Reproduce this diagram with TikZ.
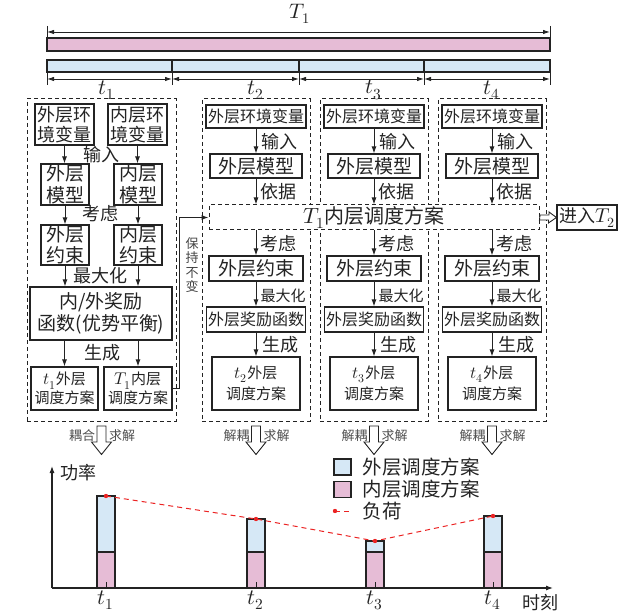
\documentclass[tikz,border=0pt]{standalone}
\usepackage{fontspec}
\usepackage{unicode-math}
\setmathfont{Latin Modern Math}
\setmainfont{Noto Sans CJK SC}
\usetikzlibrary{arrows.meta,calc}
\definecolor{pinkc}{RGB}{230,188,214}
\definecolor{bluec}{RGB}{214,232,246}
\definecolor{ink}{RGB}{35,35,35}
\definecolor{loadred}{RGB}{235,35,35}
\newcommand{\mt}[1]{{\fontsize{17}{17}\selectfont$#1$}}
\begin{document}
\begin{tikzpicture}[x=1pt,y=-1pt,color=ink,line width=1pt,
 box/.style={draw, line width=1.1pt, inner sep=0pt, align=center},
 dbox/.style={draw, dash pattern=on 4pt off 3pt, line width=1pt, inner sep=0pt},
 arr/.style={-{Latex[length=7pt,width=5pt]}, line width=1pt},
 dim/.style={{Latex[length=7pt,width=4.5pt]}-{Latex[length=7pt,width=4.5pt]}, line width=0.9pt},
 fs/.style 2 args={font=\fontsize{#1}{#2}\selectfont},
 lab/.style={inner sep=0pt, anchor=west}]
\useasboundingbox (0,0) rectangle (624,612);

% ---------- top time bars ----------
\node[fs={21}{21}] (T1lab) at (300,14) {$T_1$};
\coordinate (tl) at (47,32);
\coordinate (tr) at (550,32);
\draw (47,26) -- (47,38);
\draw (550,26) -- (550,38);
\draw[dim] (tl) -- (tr);
\draw[fill=pinkc, line width=1.1pt] (47,38) rectangle (550,51);
\draw[fill=bluec, line width=1.1pt] (47,60) rectangle (550,72);
\foreach \xx in {172,299,424}{\draw[line width=1.1pt] (\xx,60) -- (\xx,72);}
\foreach \xx in {47,172,299,424,550}{\draw (\xx,72) -- (\xx,85);}
\coordinate (d0) at (47,79);
\coordinate (d1) at (172,79);
\coordinate (d2) at (299,79);
\coordinate (d3) at (424,79);
\coordinate (d4) at (550,79);
\draw[dim] (d0) -- (d1);
\draw[dim] (d1) -- (d2);
\draw[dim] (d2) -- (d3);
\draw[dim] (d3) -- (d4);
\node[fs={22}{22}] (tt1) at (107,90) {$t_1$};
\node[fs={22}{22}] (tt2) at (256,90) {$t_2$};
\node[fs={22}{22}] (tt3) at (374,90) {$t_3$};
\node[fs={22}{22}] (tt4) at (492,90) {$t_4$};

% ---------- column frames ----------
\node[dbox, minimum width=149pt, minimum height=322pt] (col1) at (101.5,260) {};
\node[dbox, minimum width=108pt, minimum height=322pt] (col2) at (256,260) {};
\node[dbox, minimum width=108pt, minimum height=322pt] (col3) at (374,260) {};
\node[dbox, minimum width=108pt, minimum height=322pt] (col4) at (492,260) {};

% ---------- left column ----------
\node[box, fs={18}{20}, minimum width=59pt, minimum height=41pt] (oenv) at (64.5,124.5) {外层环\\境变量};
\node[box, fs={18}{20}, minimum width=59pt, minimum height=41pt] (ienv) at (137.5,124.5) {内层环\\境变量};
\node[box, fs={19}{21.5}, minimum width=48pt, minimum height=41pt] (omod) at (65,184.5) {外层\\模型};
\node[box, fs={19}{21.5}, minimum width=48pt, minimum height=41pt] (imod) at (138,184.5) {内层\\模型};
\node[box, fs={19}{21.5}, minimum width=48pt, minimum height=40pt] (ocon) at (65,245) {外层\\约束};
\node[box, fs={19}{21.5}, minimum width=48pt, minimum height=40pt] (icon) at (138,245) {内层\\约束};
\node[box, fs={19}{21.5}, minimum width=142pt, minimum height=53pt] (rew) at (101,313.5) {内/外奖励\\函数(优势平衡)};
\node[box, fs={15}{18.5}, minimum width=67pt, minimum height=43pt] (oplan1) at (64.5,388.5) {\mt{t_1}外层\\调度方案};
\node[box, fs={15}{18.5}, minimum width=68pt, minimum height=43pt] (iplan1) at (138,388.5) {\mt{T_1}内层\\调度方案};

\draw[arr] (oenv.south) -- (oenv.south |- omod.north);
\draw[arr] (ienv.south) -- (ienv.south |- imod.north);
\draw[arr] (omod.south) -- (ocon.north);
\draw[arr] (imod.south) -- (icon.north);
\draw[arr] (ocon.south) -- (ocon.south |- rew.north);
\draw[arr] (icon.south) -- (icon.south |- rew.north);
\draw[arr] (rew.south -| oplan1.north) -- (oplan1.north);
\draw[arr] (rew.south -| iplan1.north) -- (iplan1.north);
\node[fs={18}{18}, inner sep=0pt] (l1a) at (101.5,155) {输入};
\node[fs={18}{18}, inner sep=0pt] (l1b) at (100,214) {考虑};
\node[fs={18}{18}, inner sep=0pt] (l1c) at (100,276) {最大化};
\node[fs={18}{18}, inner sep=0pt] (l1d) at (102,353) {生成};

% ---------- T1 inner plan band ----------
\node[dbox, fill=white, fs={20}{20}, minimum width=330pt, minimum height=25pt] (plan) at (374,217.5) {{\fontsize{22}{22}\selectfont$T_1$}内层调度方案};
\node[box, fs={18}{18}, minimum width=60pt, minimum height=25pt] (t2box) at (587,217.5) {进入{\fontsize{20}{20}\selectfont$T_2$}};
\draw[line width=0.9pt, fill=white] ($(plan.east)+(0.5,-2.5)$) -- ++(9,0) -- ++(0,-3) -- (t2box.west) -- ++(-8,5.5) -- ++(0,-3) -- ++(-9,0) -- cycle;

\draw[arr] (iplan1.east) -- ++(7,0) |- (plan.west);
\node[fs={13}{14.5}, align=center, inner sep=0pt, color=ink!85] (keep) at (192,265) {保\\持\\不\\变};

% ---------- columns 2..4 ----------
\foreach \i/\x in {2/256,3/374,4/492}{
  \node[box, fs={16}{16}, minimum width=100pt, minimum height=23pt] (env\i) at (\x,116.5) {外层环境变量};
  \node[box, fs={19}{19}, minimum width=92pt, minimum height=24pt] (mod\i) at (\x,166) {外层模型};
  \node[box, fs={19}{19}, minimum width=94pt, minimum height=25pt] (con\i) at (\x,268.5) {外层约束};
  \node[box, fs={16}{16}, minimum width=99pt, minimum height=25pt] (rew\i) at (\x,319.5) {外层奖励函数};
  \node[box, fs={15}{21}, minimum width=88pt, minimum height=53pt] (out\i) at (\x,383.5) {\mt{t_{\i}}外层\\调度方案};
  \draw[arr] (env\i.south) -- (mod\i.north);
  \draw[arr] (mod\i.south) -- (mod\i.south |- plan.north);
  \draw[arr] (con\i.north |- plan.south) -- (con\i.north);
  \draw[arr] (con\i.south) -- (rew\i.north);
  \draw[arr] (rew\i.south) -- (out\i.north);
  \node[lab, fs={18}{18}] at (\x+5,142) {输入};
  \node[lab, fs={18}{18}] at (\x+4,192) {依据};
  \node[lab, fs={18}{18}] at (\x+4,244) {考虑};
  \node[lab, fs={15}{15}] at (\x+4,296) {最大化};
  \node[lab, fs={18}{18}] at (\x+6,345) {生成};
}

% ---------- hollow arrows below columns ----------
\foreach \c/\l in {col1/耦合,col2/解耦,col3/解耦,col4/解耦}{
  \draw[line width=0.9pt, fill=white] ($(\c.south)+(-4.5,4.5)$) -- ++(9,0) -- ++(0,16) -- ++(5.5,0) -- ++(-10,12.5) -- ++(-10,-12.5) -- ++(5.5,0) -- cycle;
  \node[fs={13}{13}, anchor=east, inner sep=0pt, color=ink!80] at ($(\c.south)+(-6,14)$) {\l};
  \node[fs={13}{13}, anchor=west, inner sep=0pt, color=ink!80] at ($(\c.south)+(7,14)$) {求解};
}

% ---------- chart ----------
\coordinate (O) at (52,588);
\coordinate (ytop) at (52,466);
\coordinate (xend) at (553,588);
\foreach \x/\t in {106/496,256/519,375/541,493/516}{
  \fill[pinkc] (\x-9,552) rectangle (\x+9,588);
  \fill[bluec] (\x-9,\t) rectangle (\x+9,552);
  \draw[line width=1.1pt] (\x-9,588) -- (\x-9,\t) -- (\x+9,\t) -- (\x+9,588);
  \draw[line width=1.1pt] (\x-9,552) -- (\x+9,552);
  \draw (\x,588) -- (\x,582);
}
\draw[-{Latex[length=7pt,width=5pt]}, line width=1.1pt] (O) -- (ytop);
\draw[-{Latex[length=7pt,width=5pt]}, line width=1.1pt] (O) -- (xend);
\node[fs={18}{18}] (pw) at (78,473) {功率};
\node[fs={18}{18}] (tm) at (540,603) {时刻};
\node[fs={22}{22}] at (106,600) {$t_1$};
\node[fs={22}{22}] at (256,600) {$t_2$};
\node[fs={22}{22}] at (375,600) {$t_3$};
\node[fs={22}{22}] at (493,600) {$t_4$};

\coordinate (p1) at (106,496);
\coordinate (p2) at (256,519);
\coordinate (p3) at (375,541);
\coordinate (p4) at (493,516);
\draw[loadred, line width=1pt, dash pattern=on 5pt off 4pt] (p1) -- (p2) -- (p3) -- (p4);
\foreach \p in {p1,p2,p3,p4}{\fill[loadred] (\p) circle (2.2pt);}

% legend
\node[draw, line width=1.1pt, fill=bluec, minimum width=17pt, minimum height=16pt, inner sep=0pt] (lg1) at (342.5,467) {};
\node[draw, line width=1.1pt, fill=pinkc, minimum width=17pt, minimum height=16pt, inner sep=0pt] (lg2) at (342.5,489.5) {};
\node[lab, fs={19.5}{19.5}] at (362,467) {外层调度方案};
\node[lab, fs={19.5}{19.5}] at (362,489.5) {内层调度方案};
\coordinate (lg3a) at (335,511);
\coordinate (lg3b) at (352,511);
\draw[loadred, line width=1pt, dash pattern=on 5pt off 4pt] (lg3a) -- (lg3b);
\fill[loadred] (lg3a) circle (2.2pt);
\node[lab, fs={19.5}{19.5}] at (362,511) {负荷};
\end{tikzpicture}
\end{document}
